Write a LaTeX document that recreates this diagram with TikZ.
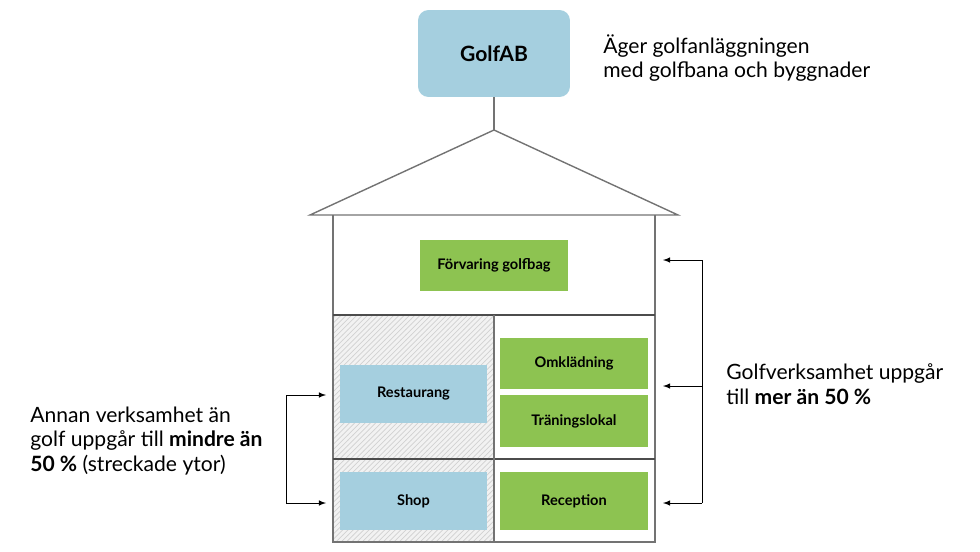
\documentclass[tikz,border=0pt]{standalone}
\usepackage{fontspec}
\setmainfont{Lato}
\usetikzlibrary{patterns,arrows}
\definecolor{boxblue}{HTML}{A5CFDF}
\definecolor{boxgreen}{HTML}{8DC351}
\begin{document}
\begin{tikzpicture}[x=0.02cm,y=-0.02cm,
    room/.style = {font=\bfseries\fontsize{8.3}{9}\selectfont, inner sep=0pt},
    bluebox/.style = {room, fill=boxblue},
    greenbox/.style = {room, fill=boxgreen},
    wall/.style = {draw=black!55, line width=0.8pt},
    note/.style = {anchor=west, align=left, inner sep=0pt, font=\fontsize{12}{14}\selectfont}]
\useasboundingbox (0,0) rectangle (980,551);

% hatched areas (other activities)
\fill[black!5] (333,315) rectangle (494,542);
\fill[pattern=north east lines, pattern color=black!18] (333,315) rectangle (494,542);

% house
\draw[wall] (310,215) -- (494,130) -- (678,215) -- cycle;
\draw[wall] (333,215) -- (333,542) -- (655,542) -- (655,215);
\draw[wall, draw=black!70] (333,315) -- (655,315);
\draw[wall, draw=black!70] (333,459) -- (655,459);
\draw[wall] (494,315) -- (494,542);

% owner
\node[bluebox, rounded corners=6pt, minimum width=3.04cm, minimum height=1.74cm,
      font=\bfseries\fontsize{12}{14}\selectfont] (golfab) at (494,53.5) {GolfAB};
\coordinate (apex) at (494,130);
\draw[wall] (golfab) -- (apex);

% rooms
\node[greenbox, minimum width=2.96cm, minimum height=1.02cm] (forvaring) at (494,265.5) {Förvaring golfbag};
\node[bluebox, minimum width=2.94cm, minimum height=1.16cm] (restaurang) at (413.5,394) {Restaurang};
\node[greenbox, minimum width=2.96cm, minimum height=1.02cm] (omkladning) at (574,363.5) {Omklädning};
\node[greenbox, minimum width=2.96cm, minimum height=1.04cm] (traning) at (574,421) {Träningslokal};
\node[bluebox, minimum width=2.94cm, minimum height=1.16cm] (shop) at (413.5,501) {Shop};
\node[greenbox, minimum width=2.96cm, minimum height=1.16cm] (reception) at (574,501) {Reception};

% notes
\node[note] (ager) at (603,58) {Äger golfanläggningen\\med golfbana och byggnader};
\node[note] (golf) at (726,384) {Golfverksamhet uppgår\\till \textbf{mer än 50 \%}};
\node[note] (annan) at (30,441) {Annan verksamhet än\\golf uppgår till \textbf{mindre än}\\\textbf{50 \%} (streckade ytor)};

% brackets
\coordinate (r1) at (702,260);
\coordinate (r2) at (702,386);
\coordinate (r3) at (702,503);
\coordinate (r1e) at (663,260);
\coordinate (r2e) at (663,386);
\coordinate (r3e) at (663,503);
\draw (r1) -- (r3);
\draw[-latex] (r1) -- (r1e);
\draw[-latex] (r2) -- (r2e);
\draw[-latex] (r3) -- (r3e);

\coordinate (l1) at (286,395);
\coordinate (l2) at (286,503);
\coordinate (l1e) at (326,395);
\coordinate (l2e) at (326,503);
\draw (l1) -- (l2);
\draw[-latex] (l1) -- (l1e);
\draw[-latex] (l2) -- (l2e);
\end{tikzpicture}
\end{document}
